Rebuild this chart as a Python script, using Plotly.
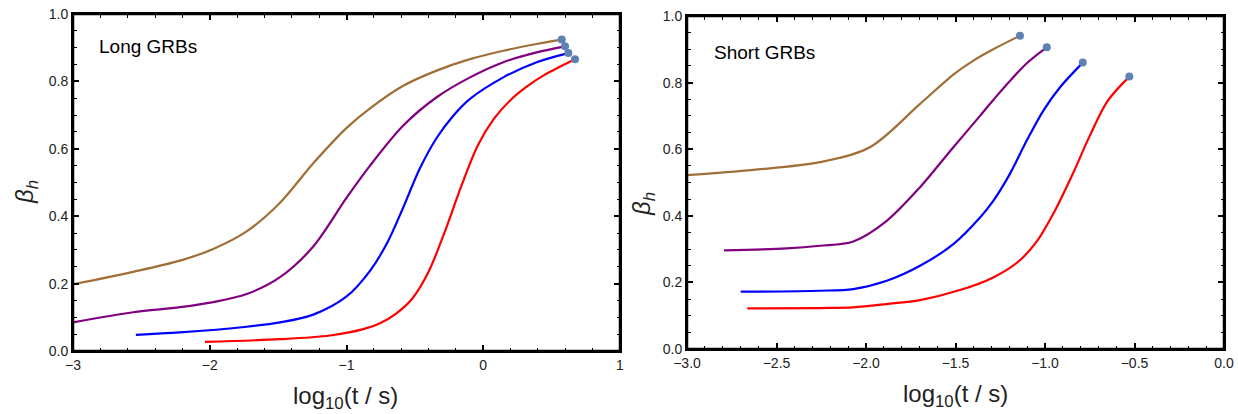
import plotly.graph_objects as go

# ---------------- Long GRBs (left panel) ----------------
long_brown_x = [-3.0, -2.56, -2.218, -1.974, -1.73, -1.486, -1.243, -0.999, -0.828, -0.585, -0.341, -0.097, 0.147, 0.391, 0.574]
long_brown_y = [0.198, 0.235, 0.268, 0.303, 0.355, 0.44, 0.557, 0.662, 0.72, 0.787, 0.832, 0.866, 0.891, 0.911, 0.924]

long_purple_x = [-3.0, -2.56, -2.218, -1.974, -1.73, -1.486, -1.243, -0.999, -0.828, -0.585, -0.341, -0.097, 0.147, 0.391, 0.598]
long_purple_y = [0.085, 0.115, 0.13, 0.145, 0.169, 0.219, 0.31, 0.455, 0.55, 0.669, 0.753, 0.812, 0.857, 0.886, 0.904]

long_blue_x = [-2.54, -2.218, -1.73, -1.486, -1.243, -0.999, -0.828, -0.706, -0.585, -0.463, -0.341, -0.219, -0.097, 0.147, 0.391, 0.622]
long_blue_y = [0.048, 0.055, 0.072, 0.085, 0.108, 0.162, 0.238, 0.318, 0.426, 0.542, 0.632, 0.698, 0.748, 0.812, 0.857, 0.884]

long_red_x = [-2.035, -1.486, -1.121, -0.877, -0.755, -0.64, -0.52, -0.4, -0.28, -0.16, -0.04, 0.08, 0.2, 0.32, 0.45, 0.671]
long_red_y = [0.027, 0.035, 0.046, 0.065, 0.082, 0.11, 0.155, 0.235, 0.355, 0.49, 0.61, 0.69, 0.745, 0.785, 0.82, 0.866]

long_end_x = [0.574, 0.598, 0.622, 0.671]
long_end_y = [0.924, 0.904, 0.884, 0.866]

# ---------------- Short GRBs (right panel) ----------------
short_brown_x = [-3.0, -2.63, -2.257, -1.978, -1.698, -1.512, -1.4, -1.289, -1.14]
short_brown_y = [0.522, 0.538, 0.561, 0.606, 0.736, 0.824, 0.866, 0.9, 0.941]

short_purple_x = [-2.793, -2.443, -2.257, -2.071, -1.884, -1.698, -1.512, -1.363, -1.289, -1.102, -0.99]
short_purple_y = [0.296, 0.302, 0.31, 0.323, 0.385, 0.486, 0.606, 0.7, 0.748, 0.858, 0.906]

short_blue_x = [-2.70, -2.257, -2.071, -1.884, -1.698, -1.512, -1.363, -1.289, -1.196, -1.102, -1.009, -0.916, -0.789]
short_blue_y = [0.172, 0.175, 0.18, 0.205, 0.25, 0.315, 0.395, 0.445, 0.526, 0.626, 0.716, 0.786, 0.86]

short_red_x = [-2.663, -2.257, -2.071, -1.884, -1.698, -1.475, -1.289, -1.15, -1.05, -0.95, -0.85, -0.75, -0.65, -0.529]
short_red_y = [0.122, 0.123, 0.125, 0.135, 0.147, 0.177, 0.215, 0.262, 0.32, 0.41, 0.52, 0.64, 0.745, 0.818]

short_end_x = [-1.14, -0.99, -0.789, -0.529]
short_end_y = [0.941, 0.906, 0.86, 0.818]

BROWN = "rgb(160,110,55)"
PURPLE = "rgb(128,0,128)"
BLUE = "rgb(0,0,255)"
RED = "rgb(255,0,0)"
DOT = "rgb(94,129,181)"

fig = go.Figure()

def add_line(x, y, color, xa, ya):
    fig.add_trace(go.Scatter(x=x, y=y, mode="lines", xaxis=xa, yaxis=ya,
                             line=dict(color=color, width=2.2, shape="spline", smoothing=0.9),
                             showlegend=False, hoverinfo="skip"))

add_line(long_brown_x, long_brown_y, BROWN, "x", "y")
add_line(long_purple_x, long_purple_y, PURPLE, "x", "y")
add_line(long_blue_x, long_blue_y, BLUE, "x", "y")
add_line(long_red_x, long_red_y, RED, "x", "y")
fig.add_trace(go.Scatter(x=long_end_x, y=long_end_y, mode="markers", xaxis="x", yaxis="y",
                         marker=dict(color=DOT, size=8), showlegend=False))

add_line(short_brown_x, short_brown_y, BROWN, "x2", "y2")
add_line(short_purple_x, short_purple_y, PURPLE, "x2", "y2")
add_line(short_blue_x, short_blue_y, BLUE, "x2", "y2")
add_line(short_red_x, short_red_y, RED, "x2", "y2")
fig.add_trace(go.Scatter(x=short_end_x, y=short_end_y, mode="markers", xaxis="x2", yaxis="y2",
                         marker=dict(color=DOT, size=8), showlegend=False))

W, H = 1238, 414
tickfont = dict(family="Liberation Sans, Arial", size=14, color="#222")

def axis_common(rng, dtick, minor_dtick, tickformat):
    return dict(range=rng, dtick=dtick, tick0=0, ticks="inside", ticklen=6, tickwidth=1.5,
                tickcolor="black", mirror="allticks", showline=True, linecolor="#000000",
                linewidth=2, showgrid=False, zeroline=False, tickfont=tickfont,
                tickformat=tickformat, automargin=False,
                minor=dict(dtick=minor_dtick, tick0=0, ticks="inside", ticklen=3.5,
                           tickwidth=1.2, tickcolor="black", showgrid=False))

# panel boxes in pixels (left, right, top, bottom)
L1 = (73, 620, 14, 351)
L2 = (687, 1224, 16, 349)

xa1 = axis_common([-3, 1], 1, 0.2, "d")
xa1.update(domain=[L1[0] / W, L1[1] / W], anchor="y")
ya1 = axis_common([0, 1], 0.2, 0.05, ".1f")
ya1.update(domain=[(H - L1[3]) / H, (H - L1[2]) / H], anchor="x")

xa2 = axis_common([-3, 0], 0.5, 0.1, ".1f")
xa2.update(domain=[L2[0] / W, L2[1] / W], anchor="y2")
ya2 = axis_common([0, 1], 0.2, 0.05, ".1f")
ya2.update(domain=[(H - L2[3]) / H, (H - L2[2]) / H], anchor="x2")

titlefont = dict(family="Liberation Sans, Arial", size=24, color="#222")
labelfont = dict(family="Liberation Sans, Arial", size=19, color="black")

ann = [
    dict(text="Long GRBs", x=97, y=46, font=labelfont, xanchor="left", yanchor="middle"),
    dict(text="Short GRBs", x=712, y=52, font=labelfont, xanchor="left", yanchor="middle"),
    dict(text="log<sub>10</sub>(t / s)", x=345, y=397, font=titlefont, xanchor="center", yanchor="middle"),
    dict(text="log<sub>10</sub>(t / s)", x=955, y=395, font=titlefont, xanchor="center", yanchor="middle"),
    dict(text="<i>β</i><sub><i>h</i></sub>", x=27, y=192, font=titlefont, textangle=-90,
         xanchor="center", yanchor="middle"),
    dict(text="<i>β</i><sub><i>h</i></sub>", x=643, y=204, font=titlefont, textangle=-90,
         xanchor="center", yanchor="middle"),
]
for a in ann:
    a["x"] = a["x"] / W
    a["y"] = (H - a["y"]) / H
    a["xref"] = "paper"
    a["yref"] = "paper"
    a["showarrow"] = False

# black frames around both panels (paper coordinates)
shapes = []
for (l, r, t, b) in (L1, L2):
    shapes.append(dict(type="rect", xref="paper", yref="paper",
                       x0=l / W, x1=r / W, y0=(H - b) / H, y1=(H - t) / H,
                       line=dict(color="#000000", width=2.5), fillcolor="rgba(0,0,0,0)",
                       layer="above"))

fig.update_layout(
    width=W, height=H,
    margin=dict(l=0, r=0, t=0, b=0),
    paper_bgcolor="white", plot_bgcolor="white",
    xaxis=xa1, yaxis=ya1, xaxis2=xa2, yaxis2=ya2,
    annotations=ann, shapes=shapes,
)

fig.write_html("out.html", config={"displayModeBar": False},
               post_script="document.body.style.margin='0';")
